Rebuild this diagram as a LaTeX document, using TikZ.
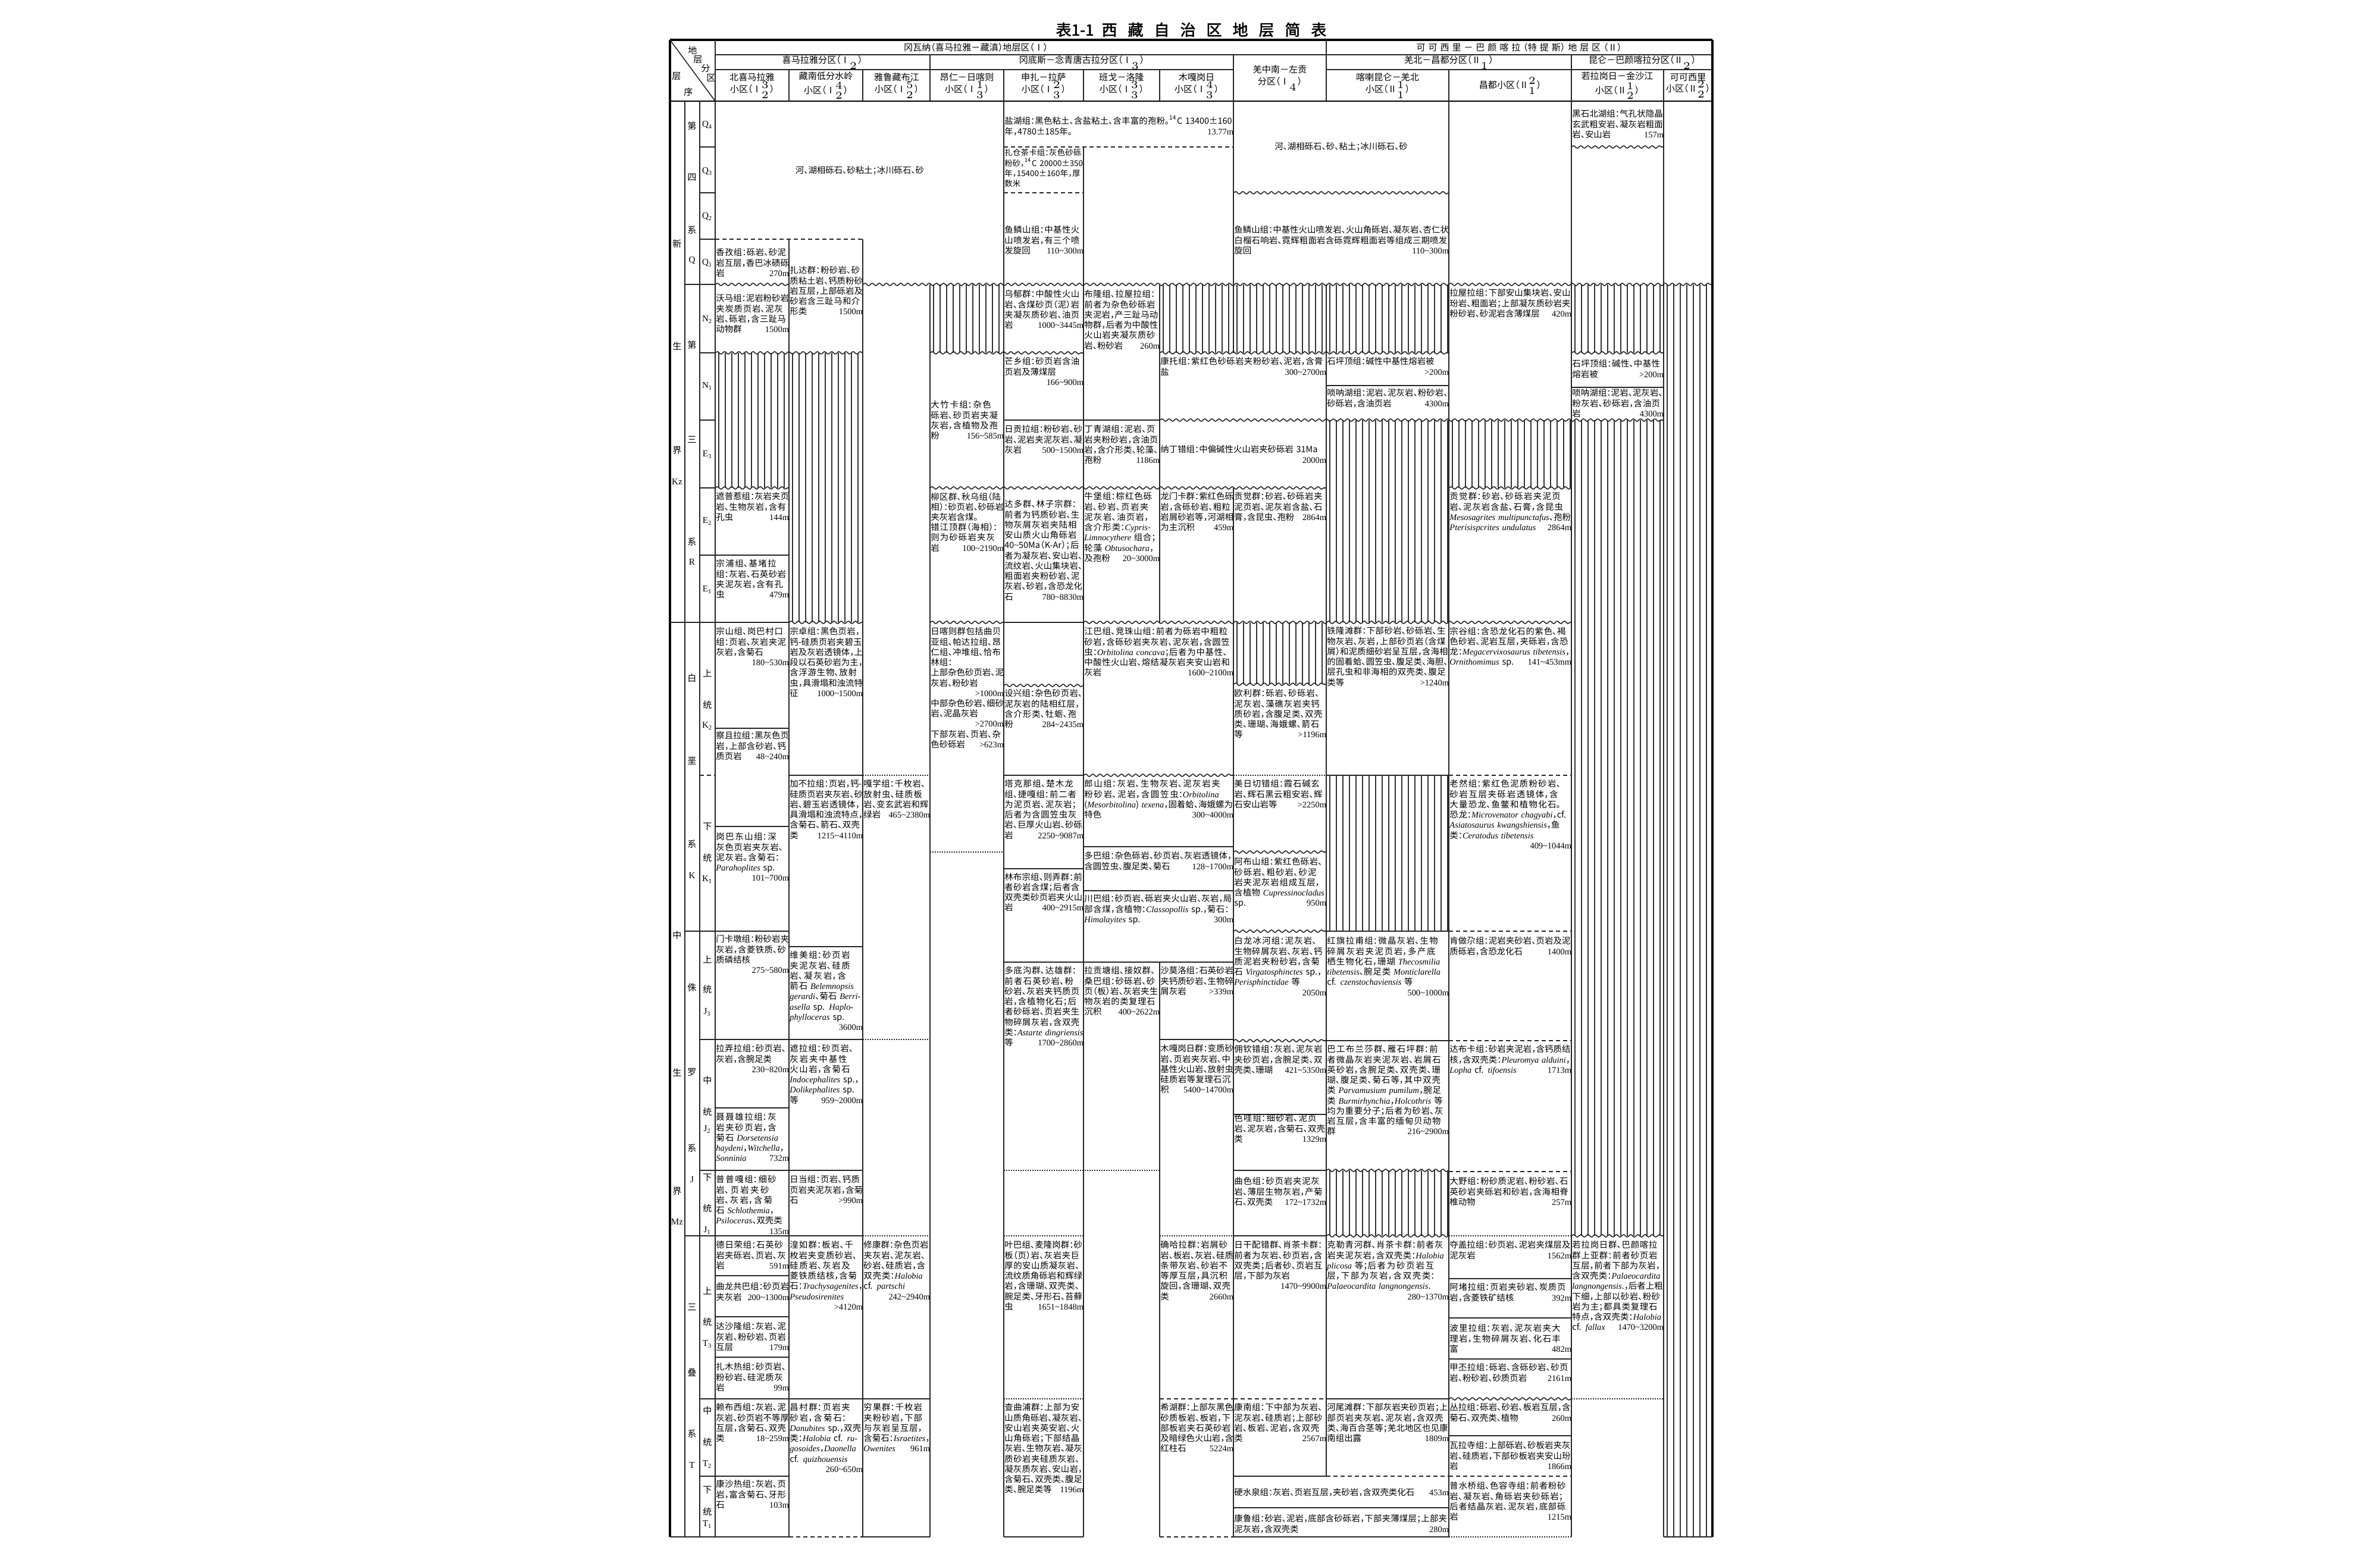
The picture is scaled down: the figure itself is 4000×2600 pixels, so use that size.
\documentclass[tikz,border=0pt]{standalone}
\usepackage{fontspec}
\setmainfont{Noto Sans CJK SC}[RawFeature=+halt]
\newfontfamily\lat{Liberation Serif}
\newfontfamily\cjkb{Noto Sans CJK SC}[FakeBold=2]
\usetikzlibrary{decorations.pathmorphing}
\XeTeXlinebreaklocale "zh"
\XeTeXlinebreakskip=0pt plus 0.6pt
\setlength\parindent{0pt}
\tolerance=9999 \emergencystretch=2pt \hbadness=10000 \hfuzz=3pt
\newlength\pxu \setlength\pxu{0.01cm}
\newlength\cw
\newcounter{cn}
\newcommand\cellfont{\fontsize{4.1pt}{4.9pt}\selectfont}
\newcommand\hdrfont{\fontsize{4.3pt}{5.6pt}\selectfont}
\newcommand\labfont{\fontsize{4.3pt}{5pt}\selectfont}
\newcommand\fos[1]{{\lat\itshape #1}}
\newcommand\rng{{\lat\textasciitilde}}
\newcommand\cma{，\allowbreak}
\newcommand\dun{、\allowbreak}
\newcommand\thk[1]{\unskip\nobreak\hfil\penalty50\hskip0.4em\hbox{}\nobreak\hfil{\lat #1}{\parfillskip=0pt\finalhyphendemerits=0\par}}
\newcommand\zn[2]{$^{#2}_{#1}$}
\newcommand\tks{\hspace{0.69em}}
\newcommand\hks{\hspace{0.32em}}
\tikzset{
  ln/.style={line width=0.45pt, black!85},
  wv/.style={ln, decorate, decoration={snake, segment length=0.12cm, amplitude=0.02cm}},
  dsh/.style={ln, dash pattern=on 0.07cm off 0.05cm},
  dtt/.style={ln, dash pattern=on 0.015cm off 0.025cm},
  htc/.style={line width=0.4pt, black!80},
  cellsty/.style={anchor=north west, inner xsep=0.2pt, inner ysep=0pt, font=\cellfont},
  ctext/.style={inner sep=0pt, font=\cellfont},
  hdr/.style={align=center, font=\hdrfont, inner sep=0pt},
  lab/.style={font=\labfont, inner sep=0pt},
}
\newcommand\cell[4]{\setlength\cw{\dimexpr #2\pxu-#1\pxu-0.4pt\relax}\stepcounter{cn}\node[cellsty,text width=\cw] (c\arabic{cn}) at (#1,#3) {#4};}
\newcommand\lab[3]{\stepcounter{cn}\node[lab] (l\arabic{cn}) at (#1,#2) {#3};}
\newcommand\hsol[3]{\draw[ln] (#1,#3) -- (#2,#3);}
\newcommand\hwav[3]{\draw[wv] (#1,#3) -- (#2,#3);}
\newcommand\hdsh[3]{\draw[dsh] (#1,#3) -- (#2,#3);}
\newcommand\hdot[3]{\draw[dtt] (#1,#3) -- (#2,#3);}
\newcommand\vsol[3]{\draw[ln] (#1,#2) -- (#1,#3);}
\newcommand\hatch[4]{\pgfmathsetmacro\hA{#1+6}\pgfmathsetmacro\hB{#1+17}%
  \foreach \hx in {\hA,\hB,...,#3}{\draw[htc] (\hx,#2) -- (\hx,#4);}}
\begin{document}
\begin{tikzpicture}[x=0.01cm,y=-0.01cm]
\fill[white] (0,0) rectangle (4000,2600);
\useasboundingbox (0,0) rectangle (4000,2600);

% ---------- title ----------
\node[font=\cjkb\fontsize{7.4pt}{8pt}\selectfont, inner sep=0pt] (title) at (2002,50) {表1-1\hspace{0.5em}西\tks 藏\tks 自\tks 治\tks 区\tks 地\tks 层\tks 简\tks 表};

% ---------- hatching (missing strata) ----------
\hatch{1202}{593}{1326}{820}
\hatch{1326}{593}{1450}{1046}
\hatch{1563}{478}{1687}{593}
\hatch{1949}{478}{2073}{593}
\hatch{2073}{478}{2229}{593}
\hatch{2229}{478}{2435}{593}
\hatch{2641}{478}{2796}{593}
\hatch{2796}{478}{2878}{2583}
\hatch{2229}{706}{2435}{1046}
\hatch{2435}{706}{2641}{820}
\hatch{2641}{706}{2796}{2077}
\hatch{2073}{1046}{2229}{1150}
\hatch{2229}{1303}{2435}{1565}
\hatch{2229}{1967}{2435}{2077}

% ---------- frame and header lines ----------
\draw[line width=1.3pt] (1126,67) -- (2878,67);
\draw[line width=0.9pt] (1126,67) -- (1126,2583);
\draw[line width=0.9pt] (2878,67) -- (2878,2583);
\draw[line width=0.7pt] (1126,170) -- (2878,170);
\hsol{1202}{2878}{92}
\hsol{1202}{2073}{117}
\hsol{2229}{2878}{117}
\draw[ln] (1126,67) -- (1202,170);

% ---------- vertical lines ----------
\vsol{1151}{170}{2583}
\vsol{1176}{170}{2583}
\vsol{1202}{67}{2583}
\vsol{1326}{117}{170}\vsol{1326}{402}{2583}
\vsol{1450}{117}{170}\vsol{1450}{402}{2583}
\vsol{1563}{92}{170}\vsol{1563}{478}{2583}
\vsol{1687}{117}{2583}
\vsol{1821}{117}{170}\vsol{1821}{247}{2583}
\vsol{1949}{117}{170}\vsol{1949}{478}{1046}\vsol{1949}{1617}{2583}
\vsol{2073}{92}{593}\vsol{2073}{820}{2583}
\vsol{2229}{67}{170}\vsol{2229}{478}{2481}
\vsol{2435}{117}{2583}
\vsol{2641}{92}{2583}
\vsol{2796}{117}{2583}

% ---------- left columns horizontal lines ----------
\foreach \yy in {247,324,402,593,706,820,933,1747,1967,2351,2481}{\hsol{1176}{1202}{\yy}}
\hdsh{1176}{1202}{1303}
\foreach \yy in {478,1565,2077}{\hsol{1151}{1202}{\yy}}
\hsol{1126}{1202}{1046}

% ---------- body horizontal lines ----------
% c1
\hdsh{1202}{1450}{402}
\hwav{1202}{1326}{478}
\hwav{1202}{1450}{593}
\hwav{1202}{1326}{820}
\foreach \yy in {933,1046,1224,1389,1565,1862,2144,2213,2281,2481}{\hsol{1202}{1326}{\yy}}
\hsol{1202}{1450}{1747}
\hsol{1202}{1450}{1967}
\hsol{1202}{1450}{2077}
\hsol{1202}{1563}{2351}
% c2
\hwav{1326}{1450}{1046}
\hsol{1326}{1450}{1303}
\hsol{1326}{1450}{1591}
% c3, c4
\hwav{1450}{2878}{478}
\hdot{1450}{1563}{1303}
\hdot{1450}{1563}{1747}
\hdot{1450}{1563}{2077}
\hwav{1563}{1821}{593}
\hwav{1563}{2229}{820}
\hwav{1563}{1687}{1046}
\hdot{1563}{1687}{1432}
% c5
\hdsh{1687}{2073}{247}
\hdsh{1687}{1821}{324}
\hsol{1687}{1949}{706}
\hsol{1687}{1821}{1046}
\hwav{1687}{1821}{1152}
\hsol{1687}{1821}{1303}
\hsol{1687}{1821}{1460}
\hsol{1687}{2073}{1617}
\hdot{1687}{1949}{1967}
\hdot{1687}{1821}{2077}
\hdot{1687}{1821}{2351}
% c6
\hwav{1821}{2641}{1046}
\hwav{1821}{2073}{1303}
\hsol{1821}{2073}{1423}
\hsol{1821}{2073}{1497}
% c7
\hwav{1949}{2435}{593}
\hwav{1949}{2796}{706}
\hsol{1949}{2073}{1747}
\hdot{1949}{2073}{2077}
\hdsh{1949}{2073}{2351}
% c8
\hwav{2073}{2435}{324}
\hwav{2073}{2229}{1150}
\hdot{2073}{2229}{1303}
\hwav{2073}{2229}{1432}
\hwav{2073}{2229}{1565}
\hwav{2073}{2229}{1749}
\hsol{2073}{2229}{1873}
\hsol{2073}{2229}{1967}
\hsol{2073}{2229}{2077}
\hdsh{2073}{2229}{2351}
\hsol{2073}{2229}{2481}
\hsol{2073}{2435}{2534}
% c9
\hsol{2229}{2435}{648}
\hsol{2229}{2435}{1303}
\hsol{2229}{2435}{1565}
\hsol{2229}{2435}{1749}
\hwav{2229}{2435}{1967}
\hwav{2229}{2435}{2077}
\hsol{2229}{2435}{2351}
\hdsh{2229}{2435}{2481}
% c10
\hwav{2435}{2641}{820}
\hdsh{2435}{2641}{1303}
\hdsh{2435}{2641}{1565}
\hdsh{2435}{2641}{1749}
\hdsh{2435}{2641}{1969}
\hdot{2435}{2641}{2077}
\hsol{2435}{2641}{2149}
\hsol{2435}{2641}{2215}
\hsol{2435}{2641}{2284}
\hwav{2435}{2641}{2351}
\hsol{2435}{2641}{2413}
\hdsh{2435}{2641}{2481}
% c11
\hwav{2641}{2796}{247}
\hwav{2641}{2796}{593}
\hsol{2641}{2796}{651}
\hwav{2641}{2796}{2077}
\hdot{2641}{2796}{2351}
% bottom
\hsol{1126}{1326}{2583}
\hdsh{1326}{1450}{2583}
\hsol{1450}{1563}{2583}
\hsol{1687}{1821}{2583}
\hdsh{1949}{2073}{2583}
\hsol{2073}{2435}{2583}
\hdot{2435}{2641}{2583}
\hsol{2796}{2878}{2583}

% ---------- header texts ----------
\lab{1164}{85}{地}\lab{1173}{100}{层}\lab{1186}{115}{分}\lab{1195}{131}{区}
\lab{1137}{128}{层}\lab{1157}{155}{序}
\node[hdr] (h1) at (1640,80) {冈瓦纳（喜马拉雅－藏滇）地层区（Ⅰ）};
\node[hdr] (h2) at (2553,80) {可\hks 可\hks 西\hks 里\hks －\hks 巴\hks 颜\hks 喀\hks 拉\hks （特\hks 提\hks 斯）\hks 地\hks 层\hks 区\hks （Ⅱ）};
\node[hdr] (h3) at (1382,105) {喜马拉雅分区（Ⅰ\zn{2}{}）};
\node[hdr] (h4) at (1818,105) {冈底斯－念青唐古拉分区（Ⅰ\zn{3}{}）};
\node[hdr] (h5) at (2151,131) {羌中南－左贡\\分区（Ⅰ\zn{4}{}）};
\node[hdr] (h6) at (2435,105) {羌北－昌都分区（Ⅱ\zn{1}{}）};
\node[hdr] (h7) at (2760,105) {昆仑－巴颜喀拉分区（Ⅱ\zn{2}{}）};
\node[hdr] (h8) at (1264,144) {北喜马拉雅\\小区（Ⅰ\zn{2}{3}）};
\node[hdr] (h9) at (1388,144) {藏南低分水岭\\小区（Ⅰ\zn{2}{4}）};
\node[hdr] (h10) at (1507,144) {雅鲁藏布江\\小区（Ⅰ\zn{2}{5}）};
\node[hdr] (h11) at (1625,144) {昂仁－日喀则\\小区（Ⅰ\zn{3}{1}）};
\node[hdr] (h12) at (1754,144) {申扎－拉萨\\小区（Ⅰ\zn{3}{2}）};
\node[hdr] (h13) at (1885,144) {班戈－洛隆\\小区（Ⅰ\zn{3}{3}）};
\node[hdr] (h14) at (2011,144) {木嘎岗日\\小区（Ⅰ\zn{3}{4}）};
\node[hdr] (h15) at (2332,144) {喀喇昆仑－羌北\\小区（Ⅱ\zn{1}{1}）};
\node[hdr] (h16) at (2538,144) {昌都小区（Ⅱ\zn{1}{2}）};
\node[hdr] (h17) at (2718,144) {若拉岗日－金沙江\\小区（Ⅱ\zn{2}{1}）};
\node[hdr] (h18) at (2837,144) {可可西里\\小区（Ⅱ\zn{2}{2}）};

% ---------- left column labels ----------
\lab{1138}{410}{新}\lab{1138}{582}{生}\lab{1138}{757}{界}\lab{1138}{810}{\lat Kz}
\lab{1138}{1572}{中}\lab{1138}{1802}{生}\lab{1138}{2002}{界}\lab{1138}{2054}{\lat Mz}
\lab{1163}{212}{第}\lab{1163}{298}{四}\lab{1163}{387}{系}\lab{1163}{438}{\lat Q}
\lab{1163}{580}{第}\lab{1163}{739}{三}\lab{1163}{911}{系}\lab{1163}{945}{\lat R}
\lab{1163}{1140}{白}\lab{1163}{1279}{垩}\lab{1163}{1419}{系}\lab{1163}{1472}{\lat K}
\lab{1163}{1660}{侏}\lab{1163}{1802}{罗}\lab{1163}{1930}{系}\lab{1163}{1983}{\lat J}
\lab{1163}{2197}{三}\lab{1163}{2307}{叠}\lab{1163}{2410}{系}\lab{1163}{2463}{\lat T}
\lab{1189}{210}{\lat Q\textsubscript{4}}\lab{1189}{288}{\lat Q\textsubscript{3}}\lab{1189}{364}{\lat Q\textsubscript{2}}\lab{1189}{442}{\lat Q\textsubscript{1}}
\lab{1189}{537}{\lat N\textsubscript{2}}\lab{1189}{649}{\lat N\textsubscript{1}}\lab{1189}{764}{\lat E\textsubscript{3}}\lab{1189}{876}{\lat E\textsubscript{2}}\lab{1189}{991}{\lat E\textsubscript{1}}
\lab{1189}{1131}{上}\lab{1189}{1185}{统}\lab{1189}{1220}{\lat K\textsubscript{2}}
\lab{1189}{1389}{下}\lab{1189}{1442}{统}\lab{1189}{1478}{\lat K\textsubscript{1}}
\lab{1189}{1612}{上}\lab{1189}{1663}{统}\lab{1189}{1701}{\lat J\textsubscript{3}}
\lab{1189}{1816}{中}\lab{1189}{1869}{统}\lab{1189}{1898}{\lat J\textsubscript{2}}
\lab{1189}{1979}{下}\lab{1189}{2031}{统}\lab{1189}{2068}{\lat J\textsubscript{1}}
\lab{1189}{2169}{上}\lab{1189}{2222}{统}\lab{1189}{2259}{\lat T\textsubscript{3}}
\lab{1189}{2371}{中}\lab{1189}{2424}{统}\lab{1189}{2461}{\lat T\textsubscript{2}}
\lab{1189}{2504}{下}\lab{1189}{2541}{统}\lab{1189}{2562}{\lat T\textsubscript{1}}

% ---------- Quaternary ----------
\node[ctext] (q1) at (1445,287) {河、湖相砾石、砂粘土；冰川砾石、砂};
\node[ctext] (q2) at (2254,247) {河、湖相砾石、砂、粘土；冰川砾石、砂};
\cell{1202}{1326}{417}{香孜组：砾岩、砂泥岩互层，香巴冰碛砾岩\thk{270m}}
\cell{1326}{1450}{447}{扎达群：粉砂岩、砂质粘土岩、钙质粉砂岩互层，上部砾岩及砂岩含三趾马和介形类\thk{1500m}}
\cell{1687}{2073}{194}{盐湖组：黑色粘土、含盐粘土、含丰富的孢粉。\textsuperscript{14}C 13400±160年，4780±185年。\thk{13.77m}}
\cell{1687}{1821}{250}{\fontsize{3.8pt}{4.6pt}\selectfont 扎仓茶卡组：灰色砂砾粉砂，\textsuperscript{14}C~20000±350年，15400±160年，厚数米}
\cell{1687}{1821}{379}{鱼鳞山组：中基性火山喷发岩，有三个喷发旋回\thk{110\rng300m}}
\cell{2073}{2435}{379}{鱼鳞山组：中基性火山喷发岩、火山角砾岩、凝灰岩、杏仁状白榴石响岩、霓辉粗面岩含砾霓辉粗面岩等组成三期喷发旋回\thk{110\rng300m}}
\cell{2641}{2796}{184}{黑石北湖组：气孔状隐晶玄武粗安岩、凝灰岩粗面岩、安山岩\thk{157m}}

% ---------- Neogene ----------
\cell{1202}{1326}{494}{沃马组：泥岩粉砂岩夹炭质页岩、泥灰岩、砾岩，含三趾马动物群\thk{1500m}}
\cell{1687}{1821}{487}{乌郁群：中酸性火山岩、含煤砂页（泥）岩夹凝灰质砂岩、油页岩\thk{1000\rng3445m}}
\cell{1821}{1949}{487}{布隆组、拉屋拉组：前者为杂色砂砾岩夹泥岩，产三趾马动物群，后者为中酸性火山岩夹凝灰质砂岩、粉砂岩\thk{260m}}
\cell{2435}{2641}{485}{拉屋拉组：下部安山集块岩、安山玢岩、粗面岩；上部凝灰质砂岩夹粉砂岩、砂泥岩含薄煤层\thk{420m}}
\cell{1687}{1821}{600}{芒乡组：砂页岩含油页岩及薄煤层\thk{166\rng900m}}
\cell{1949}{2229}{600}{康托组：紫红色砂砾岩夹粉砂岩、泥岩，含膏盐\thk{300\rng2700m}}
\cell{2229}{2435}{600}{石坪顶组：碱性中基性熔岩被\thk{>200m}}
\cell{2229}{2435}{653}{唢呐湖组：泥岩、泥灰岩、粉砂岩、砂砾岩，含油页岩\thk{4300m}}
\cell{2641}{2796}{604}{石坪顶组：碱性、中基性熔岩被\thk{>200m}}
\cell{2641}{2796}{653}{唢呐湖组：泥岩、泥灰岩、粉灰岩、砂砾岩，含油页岩\thk{4300m}}
\cell{1563}{1687}{673}{大竹卡组：杂色砾岩、砂页岩夹凝灰岩，含植物及孢粉\thk{156\rng585m}}

% ---------- Paleogene ----------
\cell{1687}{1821}{714}{日贡拉组：粉砂岩、砂岩、泥岩夹泥灰岩、凝灰岩\thk{500\rng1500m}}
\cell{1821}{1949}{714}{丁青湖组：泥岩、页岩夹粉砂岩，含油页岩，含介形类、轮藻、孢粉\thk{1186m}}
\cell{1949}{2229}{748}{纳丁错组：中偏碱性火山岩夹砂砾岩 31Ma\thk{2000m}}
\cell{1202}{1326}{827}{遮普惹组：灰岩夹页岩、生物灰岩，含有孔虫\thk{144m}}
\cell{1202}{1326}{940}{宗浦组、基堵拉组：灰岩、石英砂岩夹泥灰岩，含有孔虫\thk{479m}}
\cell{1563}{1687}{827}{柳区群、秋乌组（陆相）：砂页岩、砂砾岩夹灰岩含煤。\newline 错江顶群（海相）：则为砂砾岩夹灰岩\thk{100\rng2190m}}
\cell{1687}{1821}{840}{达多群、林子宗群：前者为钙质砂岩、生物灰屑灰岩夹陆相安山质火山角砾岩40\rng50Ma（K-Ar）；后者为凝灰岩、安山岩、流纹岩、火山集块岩、粗面岩夹粉砂岩、泥灰岩、砂岩，含恐龙化石\thk{780\rng8830m}}
\cell{1821}{1949}{827}{牛堡组：棕红色砾岩、砂岩、页岩夹泥灰岩、油页岩，含介形类：\allowbreak\fos{Cypris}-\allowbreak\fos{Limnocythere} 组合；轮藻 \fos{Obtusochara}\cma 及孢粉\thk{20\rng3000m}}
\cell{1949}{2073}{827}{龙门卡群：紫红色砾岩，含砾砂岩、粗粒岩屑砂岩等，河湖相为主沉积\thk{459m}}
\cell{2073}{2229}{827}{贡觉群：砂岩、砂砾岩夹泥页岩、泥灰岩含盐、石膏，含昆虫、孢粉\thk{2864m}}
\cell{2435}{2641}{827}{贡觉群：砂岩、砂砾岩夹泥页岩、泥灰岩含盐、石膏，含昆虫 \fos{Mesosagrites multipunctafus}\dun 孢粉 \fos{Pterisispcrites undulatus}\thk{2864m}}

% ---------- Upper Cretaceous ----------
\cell{1202}{1326}{1054}{宗山组、岗巴村口组：页岩、灰岩夹泥灰岩，含菊石\thk{180\rng530m}}
\cell{1202}{1326}{1229}{察且拉组：黑灰色页岩，上部含砂岩、钙质页岩\thk{48\rng240m}}
\cell{1326}{1450}{1054}{宗卓组：黑色页岩，钙-硅质页岩夹碧玉岩及灰岩透镜体，上段以石英砂岩为主，含浮游生物、放射虫，具滑塌和浊流特征\thk{1000\rng1500m}}
\cell{1563}{1687}{1054}{日喀则群包括曲贝亚组、帕达拉组、昂仁组、冲堆组、恰布林组：\newline 上部杂色砂页岩、泥灰岩、粉砂岩\thk{>1000m}中部杂色砂岩、细砂岩、泥晶灰岩\thk{>2700m}下部灰岩、页岩、杂色砂砾岩\thk{>623m}}
\cell{1687}{1821}{1158}{设兴组：杂色砂页岩、泥灰岩的陆相红层，含介形类、牡蛎、孢粉\thk{284\rng2435m}}
\cell{1821}{2073}{1054}{江巴组、竞珠山组：前者为砾岩中粗粒砂岩，含砾砂岩夹灰岩、泥灰岩，含圆笠虫：\allowbreak\fos{Orbitolina concava}；\allowbreak 后者为中基性、中酸性火山岩、熔结凝灰岩夹安山岩和灰岩\thk{1600\rng2100m}}
\cell{2073}{2229}{1158}{欧利群：砾岩、砂砾岩、泥灰岩、藻礁灰岩夹钙质砂岩，含腹足类、双壳类、珊瑚、海娥螺、箭石等\thk{>1196m}}
\cell{2229}{2435}{1053}{铁隆滩群：下部砂岩、砂砾岩、生物灰岩、灰岩，上部砂页岩（含煤屑）和泥质细砂岩呈互层，含海相的固着蛤、圆笠虫、腹足类、海胆、层孔虫和非海相的双壳类、腹足类等\thk{>1240m}}
\cell{2435}{2641}{1053}{宗谷组：含恐龙化石的紫色、褐色砂岩、泥岩互层，夹砾岩，含恐龙：\allowbreak\fos{Megacervixosaurus tibetensis}\cma\fos{Ornithomimus} sp.\thk{141\rng453mm}}

% ---------- Lower Cretaceous ----------
\cell{1202}{1326}{1399}{岗巴东山组：深灰色页岩夹灰岩、泥灰岩。含菊石：\allowbreak\fos{Parahoplites} sp.\thk{101\rng700m}}
\cell{1326}{1450}{1310}{加不拉组：页岩，钙-硅质页岩夹灰岩、砂岩、碧玉岩透镜体，具滑塌和浊流特点，含菊石、箭石、双壳类\thk{1215\rng4110m}}
\cell{1450}{1563}{1310}{嘎学组：千枚岩、放射虫、硅质板岩、变玄武岩和辉绿岩\thk{465\rng2380m}}
\cell{1687}{1821}{1310}{塔克那组、楚木龙组、捷嘎组：前二者为泥页岩、泥灰岩；后者为含圆笠虫灰岩、巨厚火山岩、砂砾岩\thk{2250\rng9087m}}
\cell{1687}{1821}{1466}{林布宗组、则弄群：前者砂岩含煤；后者含双壳类砂页岩夹火山岩\thk{400\rng2915m}}
\cell{1821}{2073}{1310}{郎山组：灰岩、生物灰岩、泥灰岩夹粉砂岩、泥岩，含圆笠虫：\allowbreak\fos{Orbitolina} (\fos{Mesorbitolina}) \fos{texena}\cma 固着蛤、海娥螺为特色\thk{300\rng4000m}}
\cell{1821}{2073}{1431}{多巴组：杂色砾岩、砂页岩、灰岩透镜体，含圆笠虫、腹足类、菊石\thk{128\rng1700m}}
\cell{1821}{2073}{1503}{川巴组：砂页岩、砾岩夹火山岩、灰岩，局部含煤，含植物：\allowbreak\fos{Classopollis} sp.\cma 菊石：\allowbreak\fos{Himalayites} sp.\thk{300m}}
\cell{2073}{2229}{1310}{美日切错组：霞石碱玄岩、辉石黑云粗安岩、辉石安山岩等\thk{>2250m}}
\cell{2073}{2229}{1441}{阿布山组：紫红色砾岩、砂砾岩、粗砂岩、砂泥岩夹泥灰岩组成互层，含植物 \fos{Cupressinocladus} sp.\thk{950m}}
\cell{2435}{2641}{1310}{老然组：紫红色泥质粉砂岩、砂岩互层夹砾岩透镜体，含大量恐龙、鱼鳖和植物化石。恐龙：\allowbreak\fos{Microvenator chagyabi}\cma cf. \fos{Asiatosaurus kwangshiensis}\cma 鱼类：\allowbreak\fos{Ceratodus tibetensis}\thk{409\rng1044m}}

% ---------- Upper Jurassic ----------
\cell{1202}{1326}{1571}{门卡墩组：粉砂岩夹灰岩，含菱铁质、砂质磷结核\thk{275\rng580m}}
\cell{1326}{1450}{1598}{维美组：砂页岩夹泥灰岩、硅质岩、凝灰岩，含箭石 \fos{Belemnopsis gerardi}\dun 菊石 \fos{Berriasella} sp. \fos{Haplophylloceras} sp.\thk{3600m}}
\cell{1687}{1821}{1624}{多底沟群、达雄群：前者石英砂岩、粉砂岩、灰岩夹钙质页岩，含植物化石；后者砂砾岩、页岩夹生物碎屑灰岩，含双壳类：\allowbreak\fos{Astarte dingriensis} 等\thk{1700\rng2860m}}
\cell{1821}{1949}{1624}{拉贡塘组、接奴群、桑巴组：砂砾岩、砂页（板）岩、灰岩夹生物灰岩的类复理石沉积\thk{400\rng2622m}}
\cell{1949}{2073}{1624}{沙莫洛组：石英砂岩夹钙质砂岩、生物碎屑灰岩\thk{>339m}}
\cell{2073}{2229}{1574}{白龙冰河组：泥灰岩、生物碎屑灰岩、灰岩、钙质泥岩夹粉砂岩，含菊石 \fos{Virgatosphinctes} sp.\cma\fos{Perisphinctidae} 等\thk{2050m}}
\cell{2229}{2435}{1574}{红旗拉甫组：微晶灰岩、生物碎屑灰岩夹泥页岩，多产底栖生物化石，珊瑚 \fos{Thecosmilia tibetensis}\dun 腕足类 \fos{Monticlarella} cf. \fos{czenstochaviensis} 等\thk{500\rng1000m}}
\cell{2435}{2641}{1574}{肯做尕组：泥岩夹砂岩、页岩及泥质砾岩，含恐龙化石\thk{1400m}}

% ---------- Middle Jurassic ----------
\cell{1202}{1326}{1755}{拉弄拉组：砂页岩、灰岩，含腕足类\thk{230\rng820m}}
\cell{1202}{1326}{1870}{聂聂雄拉组：灰岩夹砂页岩，含菊石 \fos{Dorsetensia haydeni}\cma\fos{Witchella}\cma\fos{Sonninia}\thk{732m}}
\cell{1326}{1450}{1755}{遮拉组：砂页岩、灰岩夹中基性火山岩，含菊石 \fos{Indocephalites} sp.\cma\fos{Dolikephalites} sp.等\thk{959\rng2000m}}
\cell{1949}{2073}{1755}{木嘎岗日群：变质砂岩、页岩夹灰岩、中基性火山岩、放射虫硅质岩等复理石沉积\thk{5400\rng14700m}}
\cell{2073}{2229}{1756}{佣钦错组：灰岩、泥灰岩夹砂页岩，含腕足类、双壳类、珊瑚\thk{421\rng5350m}}
\cell{2073}{2229}{1872}{色哇组：细砂岩、泥页岩、泥灰岩，含菊石、双壳类\thk{1329m}}
\cell{2229}{2435}{1756}{巴工布兰莎群、雁石坪群：前者微晶灰岩夹泥灰岩、岩屑石英砂岩，含腕足类、双壳类、珊瑚、腹足类、菊石等，其中双壳类 \fos{Parvamusium pumilum}\cma 腕足类 \fos{Burmirhynchia}\cma\fos{Holcothris} 等均为重要分子；后者为砂岩、灰岩互层，含丰富的缅甸贝动物群\thk{216\rng2900m}}
\cell{2435}{2641}{1756}{达布卡组：砂岩夹泥岩，含钙质结核，含双壳类：\allowbreak\fos{Pleuromya alduini}\cma\fos{Lopha} cf. \fos{tifoensis}\thk{1713m}}

% ---------- Lower Jurassic ----------
\cell{1202}{1326}{1975}{普普嘎组：细砂岩、页岩夹砂岩、灰岩，含菊石 \fos{Schlothemia}\cma\fos{Psiloceras}\dun 双壳类\thk{135m}}
\cell{1326}{1450}{1975}{日当组：页岩、钙质页岩夹泥灰岩，含菊石\thk{>990m}}
\cell{2073}{2229}{1978}{曲色组：砂页岩夹泥灰岩、薄层生物灰岩，产菊石、双壳类\thk{172\rng1732m}}
\cell{2435}{2641}{1978}{大野组：粉砂质泥岩、粉砂岩、石英砂岩夹砾岩和砂岩，含海相脊椎动物\thk{257m}}

% ---------- Upper Triassic ----------
\cell{1202}{1326}{2085}{德日荣组：石英砂岩夹砾岩、页岩、灰岩\thk{591m}}
\cell{1202}{1326}{2155}{曲龙共巴组：砂页岩夹灰岩\thk{200\rng1300m}}
\cell{1202}{1326}{2222}{达沙隆组：灰岩、泥灰岩、粉砂岩、页岩互层\thk{179m}}
\cell{1202}{1326}{2290}{扎木热组：砂页岩、粉砂岩、硅泥质灰岩\thk{99m}}
\cell{1326}{1450}{2085}{湟如群：板岩、千枚岩夹变质砂岩、硅质岩、灰岩及菱铁质结核，含菊石：\allowbreak\fos{Trachysagenites}\cma\fos{Pseudosirenites}\thk{>4120m}}
\cell{1450}{1563}{2085}{修康群：杂色页岩夹灰岩、泥灰岩、砂岩、硅质岩，含双壳类：\allowbreak\fos{Halobia} cf. \fos{partschi}\thk{242\rng2940m}}
\cell{1687}{1821}{2085}{叶巴组、麦隆岗群：砂板（页）岩、灰岩夹巨厚的安山质凝灰岩、流纹质角砾岩和辉绿岩，含珊瑚、双壳类、腕足类、牙形石、苔藓虫\thk{1651\rng1848m}}
\cell{1949}{2073}{2085}{确哈拉群：岩屑砂岩、板岩、灰岩、硅质条带灰岩、砂岩不等厚互层，具沉积旋回，含珊瑚、双壳类\thk{2660m}}
\cell{2073}{2229}{2085}{日干配错群、肖茶卡群：前者为灰岩、砂页岩，含双壳类；后者砂、页岩互层，下部为灰岩\thk{1470\rng9900m}}
\cell{2229}{2435}{2085}{克勒青河群、肖茶卡群：前者灰岩夹泥灰岩，含双壳类：\allowbreak\fos{Halobia plicosa} 等；\allowbreak 后者为砂页岩互层，下部为灰岩，含双壳类：\allowbreak\fos{Palaeocardita langnongensis}.\thk{280\rng1370m}}
\cell{2435}{2641}{2085}{夺盖拉组：砂页岩、泥岩夹煤层及泥灰岩\thk{1562m}}
\cell{2435}{2641}{2156}{阿堵拉组：页岩夹砂岩、炭质页岩，含菱铁矿结核\thk{392m}}
\cell{2435}{2641}{2225}{波里拉组：灰岩、泥灰岩夹大理岩，生物碎屑灰岩、化石丰富\thk{482m}}
\cell{2435}{2641}{2291}{甲丕拉组：砾岩、含砾砂岩、砂页岩、粉砂岩、砂质页岩\thk{2161m}}
\cell{2641}{2796}{2085}{若拉岗日群、巴颜喀拉群上亚群：前者砂页岩互层，前者下部为灰岩，含双壳类：\allowbreak\fos{Palaeocardita langnongensis}.\cma 后者上粗下细，上部以砂岩、粉砂岩为主；都具类复理石特点，含双壳类：\allowbreak\fos{Halobia} cf. \fos{fallax}\thk{1470\rng3200m}}

% ---------- Middle Triassic ----------
\cell{1202}{1326}{2358}{赖布西组：灰岩、泥灰岩、砂页岩不等厚互层，含菊石、双壳类\thk{18\rng259m}}
\cell{1326}{1450}{2358}{昌村群：页岩夹砂岩，含菊石：\allowbreak\fos{Danubites} sp.\cma 双壳类：\allowbreak\fos{Halobia} cf. \fos{rugosoides}\cma\fos{Daonella} cf. \fos{quizhouensis}\thk{260\rng650m}}
\cell{1450}{1563}{2358}{穷果群：千枚岩夹粉砂岩，下部与灰岩呈互层，含菊石：\allowbreak\fos{Israetites}\cma\fos{Owenites}\thk{961m}}
\cell{1687}{1821}{2358}{查曲浦群：上部为安山质角砾岩、凝灰岩、安山岩夹英安岩、火山角砾岩；下部结晶灰岩、生物灰岩、凝灰质砂岩夹硅质灰岩、凝灰质灰岩、安山岩，含菊石、双壳类、腹足类、腕足类等\thk{1196m}}
\cell{1949}{2073}{2358}{希湖群：上部灰黑色砂质板岩、板岩，下部板岩夹石英砂岩及暗绿色火山岩，含红柱石\thk{5224m}}
\cell{2073}{2229}{2358}{康南组：下中部为灰岩、泥灰岩、硅质岩；上部砂岩、板岩、泥岩，含双壳类\thk{2567m}}
\cell{2229}{2435}{2358}{河尾滩群：下部灰岩夹砂页岩；上部页岩夹灰岩、泥灰岩，含双壳类、海百合茎等；羌北地区也见康南组出露\thk{1809m}}
\cell{2435}{2641}{2358}{丛拉组：砾岩、砂岩、板岩互层，含菊石、双壳类、植物\thk{260m}}
\cell{2435}{2641}{2422}{瓦拉寺组：上部砾岩、砂板岩夹灰岩、硅质岩，下部砂板岩夹安山玢岩\thk{1866m}}

% ---------- Lower Triassic ----------
\cell{1202}{1326}{2487}{康沙热组：灰岩、页岩，富含菊石、牙形石\thk{103m}}
\cell{2073}{2435}{2501}{硬水泉组：灰岩、页岩互层，夹砂岩，含双壳类化石\thk{453m}}
\cell{2073}{2435}{2545}{康鲁组：砂岩、泥岩，底部含砂砾岩，下部夹薄煤层；上部夹泥灰岩，含双壳类\thk{280m}}
\cell{2435}{2641}{2490}{普水桥组、色容寺组：前者粉砂岩、凝灰岩、角砾岩夹砂砾岩；后者结晶灰岩、泥灰岩，底部砾岩\thk{1215m}}
\end{tikzpicture}
\end{document}
